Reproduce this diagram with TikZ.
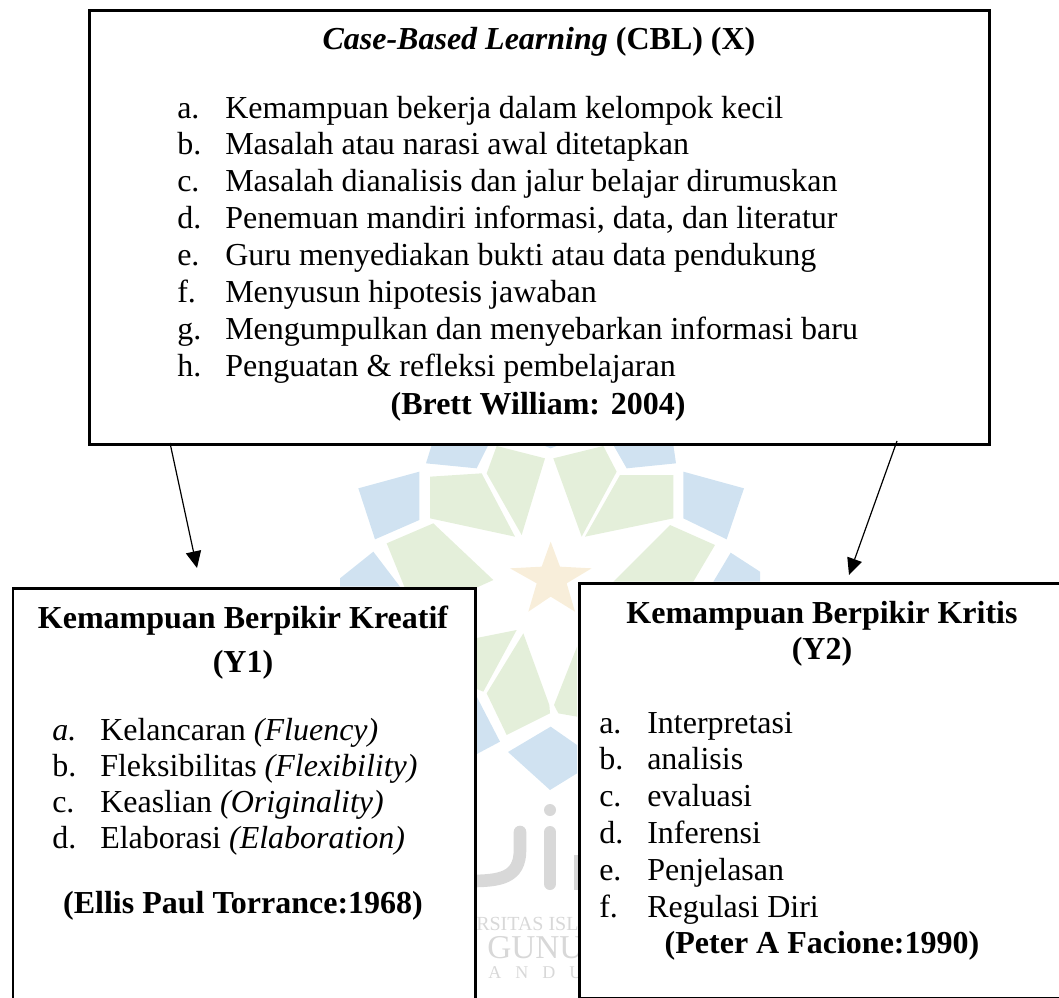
\documentclass[tikz,border=0pt]{standalone}
\usepackage{fontspec}
\setmainfont{Liberation Serif}
\usetikzlibrary{arrows.meta}
\definecolor{wblue}{RGB}{208,226,241}
\definecolor{wgreen}{RGB}{228,239,218}
\definecolor{wstar}{RGB}{248,238,218}
\definecolor{wgray}{RGB}{216,216,216}
\tikzset{
  box/.style={draw=black,line width=2.1pt,fill=white,rectangle,inner sep=0pt,anchor=north west},
  itm/.style={anchor=base west,inner sep=0pt,font=\fontsize{24}{28}\selectfont},
  ttl/.style={anchor=base,inner sep=0pt,font=\fontsize{24}{29}\selectfont\bfseries},
  conn/.style={line width=0.9pt,-{Triangle[length=12.5pt,width=11.5pt]}},
  wmtext/.style={anchor=base west,inner sep=0pt,text=wgray}
}
\begin{document}
\begin{tikzpicture}[x=0.75pt,y=-0.75pt]
\useasboundingbox (0,0) rectangle (1059,998);
\clip (0,0) rectangle (1059,998);
% watermark (zoom coordinates mapped to pixels)
\begin{scope}[shift={(340,430)},x=0.25pt,y=-0.25pt]
\fill[wblue] (275,45)--(445,45)--(410,115)--(258,100)--cycle;
\fill[wblue] (820,45)--(1000,45)--(1008,100)--(860,115)--cycle;
\fill[wblue] (600,42)--(665,42)--(632,55)--cycle;
\fill[wblue] (55,175)--(238,125)--(238,270)--(105,328)--cycle;
\fill[wblue] (1030,125)--(1212,175)--(1160,328)--(1030,265)--cycle;
\fill[wblue] (100,365)--(180,470)--(0,470)--(0,445)--cycle;
\fill[wblue] (1172,368)--(1260,425)--(1260,455)--(1120,455)--cycle;
\fill[wblue] (405,790)--(480,935)--(405,975)--cycle;
\fill[wblue] (632,890)--(711,945)--(711,1030)--(630,1080)--(504,966)--cycle;
\fill[wgreen] (470,48)--(615,85)--(545,315)--(440,130)--cycle;
\fill[wgreen] (790,48)--(640,85)--(725,320)--(830,125)--cycle;
\fill[wgreen] (270,140)--(425,130)--(525,320)--(270,265)--cycle;
\fill[wgreen] (840,135)--(1000,135)--(1000,265)--(735,320)--cycle;
\fill[wgreen] (140,340)--(280,280)--(460,450)--(405,475)--(195,475)--cycle;
\fill[wgreen] (990,285)--(1125,345)--(1060,455)--(820,455)--cycle;
\fill[wgreen] (405,625)--(530,600)--(430,785)--(405,775)--cycle;
\fill[wgreen] (550,610)--(628,825)--(630,850)--(500,915)--(440,790)--cycle;
\fill[wgreen] (642,825)--(711,650)--(711,860)--(655,850)--cycle;
\fill[wstar] (632,335)--(660,410)--(755,415)--(680,460)--(705,545)--(632,500)--(565,545)--(590,460)--(510,415)--(605,410)--cycle;
\end{scope}
\draw[wgray,line width=9.5pt,line cap=round] (520,832)--(520,850) .. controls (520,878) and (500,881) .. (470,881);
\draw[wgray,line width=9pt,line cap=round] (550,832)--(550,884);
\fill[wgray] (550,810) circle (6);
\fill[wgray] (574,855) rectangle (580,890);
\node[wmtext,font=\fontsize{15}{18}\selectfont] (wmA) at (476,930) {RSITAS ISL};
\node[wmtext,font=\fontsize{25}{30}\selectfont] (wmB) at (487,958) {GUNU};
\node[wmtext,font=\fontsize{13.5}{16}\selectfont] (wmC) at (488,978) {A\hspace{10.5pt}N\hspace{10.5pt}D\hspace{10.5pt}U};
% boxes
\node[box,minimum width=675pt,minimum height=325pt] (top) at (88,9.5) {};
\node[box,minimum width=347pt,minimum height=400pt] (y1) at (11.5,587) {};
\node[box,minimum width=400pt,minimum height=311pt] (y2) at (578,582) {};
% top box text
\node[ttl] (t0) at (539,50) {\textit{Case-Based Learning} (CBL) (X)};
\foreach \n/\yy/\l/\t in {a/118.3/a./Kemampuan bekerja dalam kelompok kecil,
 b/155/b./Masalah atau narasi awal ditetapkan,
 c/192/c./Masalah dianalisis dan jalur belajar dirumuskan,
 d/229/d./{Penemuan mandiri informasi, data, dan literatur},
 e/266/e./Guru menyediakan bukti atau data pendukung,
 f/302.5/f./Menyusun hipotesis jawaban,
 g/339.5/g./Mengumpulkan dan menyebarkan informasi baru,
 h/376/h./Penguatan \& refleksi pembelajaran}{
  \node[itm] (tl\n) at (177,\yy) {\l};
  \node[itm] (tt\n) at (225,\yy) {\t};
}
\node[ttl] (tbrett) at (538,414) {(Brett William: 2004)};
% left box text
\node[ttl] (l0) at (243,628) {Kemampuan Berpikir Kreatif};
\node[ttl] (l1) at (243,672) {(Y1)};
\node[itm] (lla) at (52,740) {\textit{a.}};
\node[itm] (lta) at (100,740) {Kelancaran \textit{(Fluency)}};
\node[itm] (llb) at (52,776.5) {b.};
\node[itm] (ltb) at (100,776.5) {Fleksibilitas \textit{(Flexibility)}};
\node[itm] (llc) at (52,812.5) {c.};
\node[itm] (ltc) at (100,812.5) {Keaslian \textit{(Originality)}};
\node[itm] (lld) at (52,848.5) {d.};
\node[itm] (ltd) at (100,848.5) {Elaborasi \textit{(Elaboration)}};
\node[ttl] (lsrc) at (243,913) {(Ellis Paul Torrance:1968)};
% right box text
\node[ttl] (r0) at (822,623) {Kemampuan Berpikir Kritis};
\node[ttl] (r1) at (822,659) {(Y2)};
\foreach \n/\yy/\l/\t in {a/733/a./Interpretasi,b/769.5/b./analisis,c/806/c./evaluasi,d/843/d./Inferensi,e/880/e./Penjelasan,f/917/f./Regulasi Diri}{
  \node[itm] (rl\n) at (599,\yy) {\l};
  \node[itm] (rt\n) at (647,\yy) {\t};
}
\node[ttl] (rsrc) at (822,953) {(Peter A Facione:1990)};
% connectors
\coordinate (s1) at (170,443);
\coordinate (e1) at (197,568);
\coordinate (s2) at (897,441);
\coordinate (e2) at (849,575);
\draw[conn] (s1) -- (e1);
\draw[conn] (s2) -- (e2);
\end{tikzpicture}
\end{document}
